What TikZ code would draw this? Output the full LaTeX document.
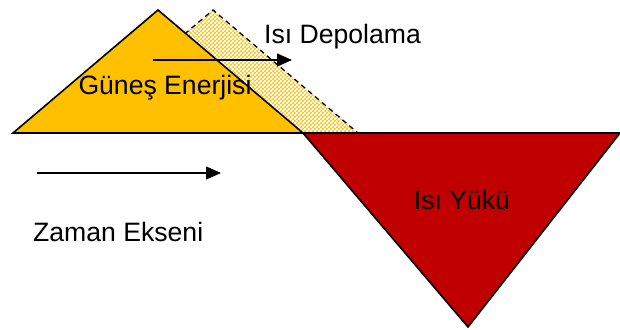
\documentclass[tikz,border=0pt]{standalone}
\usepackage{fontspec}
\setmainfont{Liberation Sans}
\usetikzlibrary{patterns,arrows.meta}
\definecolor{sunyellow}{RGB}{255,192,0}
\definecolor{storeyellow}{RGB}{255,200,40}
\definecolor{loadred}{RGB}{192,0,0}
% white spots on a yellow ground for the stored heat
\pgfdeclarepatternformonly{storespots}{\pgfqpoint{0pt}{0pt}}{\pgfqpoint{4.4pt}{4.4pt}}{\pgfqpoint{4.4pt}{4.4pt}}{%
  \pgfpathcircle{\pgfqpoint{1.1pt}{1.1pt}}{1.5pt}
  \pgfpathcircle{\pgfqpoint{3.3pt}{3.3pt}}{1.5pt}
  \pgfusepath{fill}}
\tikzset{
  lbl/.style={font=\fontsize{26.6}{30}\selectfont, inner sep=0pt, text=black},
  tri/.style={draw=black, line width=1.6pt, line join=miter},
  timearrow/.style={draw=black, line width=1.6pt, -{Triangle[length=15pt,width=13pt]}}
}
\begin{document}
\begin{tikzpicture}[x=1pt,y=-1pt]
\useasboundingbox (0,0) rectangle (620,329);
% key points of the three shapes
\coordinate (sunL) at (13,133);
\coordinate (sunT) at (158,10);
\coordinate (sunR) at (303,133);
\coordinate (stoL) at (68,133);
\coordinate (stoT) at (213,10);
\coordinate (stoR) at (358,133);
\coordinate (lodL) at (303,133);
\coordinate (lodR) at (620,133);
\coordinate (lodB) at (468,327);
% stored heat: shifted copy behind the solar triangle
\fill[storeyellow] (stoL) -- (stoT) -- (stoR) -- cycle;
\fill[pattern=storespots, pattern color=white] (stoL) -- (stoT) -- (stoR) -- cycle;
\draw[line width=1.3pt, dash pattern=on 5pt off 4pt] (stoL) -- (stoT) -- (stoR);
% solar energy
\draw[tri, fill=sunyellow] (sunL) -- (sunT) -- (sunR) -- cycle;
% heat load
\draw[tri, fill=loadred] (lodL) -- (lodR) -- (lodB) -- cycle;
% base line
\draw[line width=1.6pt] (sunL) -- (lodR);
% labels
\node[lbl] (gunes) at (165,88) {Güneş Enerjisi};
\node[lbl, anchor=west] (depo) at (264,37) {Isı Depolama};
\node[lbl] (yuk) at (462,200) {Isı Yükü};
\node[lbl, anchor=west] (zaman) at (33,232) {Zaman Ekseni};
% arrows
\coordinate (a1s) at (153,60);
\coordinate (a1e) at (292,60);
\coordinate (a2s) at (37,173);
\coordinate (a2e) at (221,173);
\draw[timearrow] (a1s) -- (a1e);
\draw[timearrow] (a2s) -- (a2e);
\end{tikzpicture}
\end{document}
